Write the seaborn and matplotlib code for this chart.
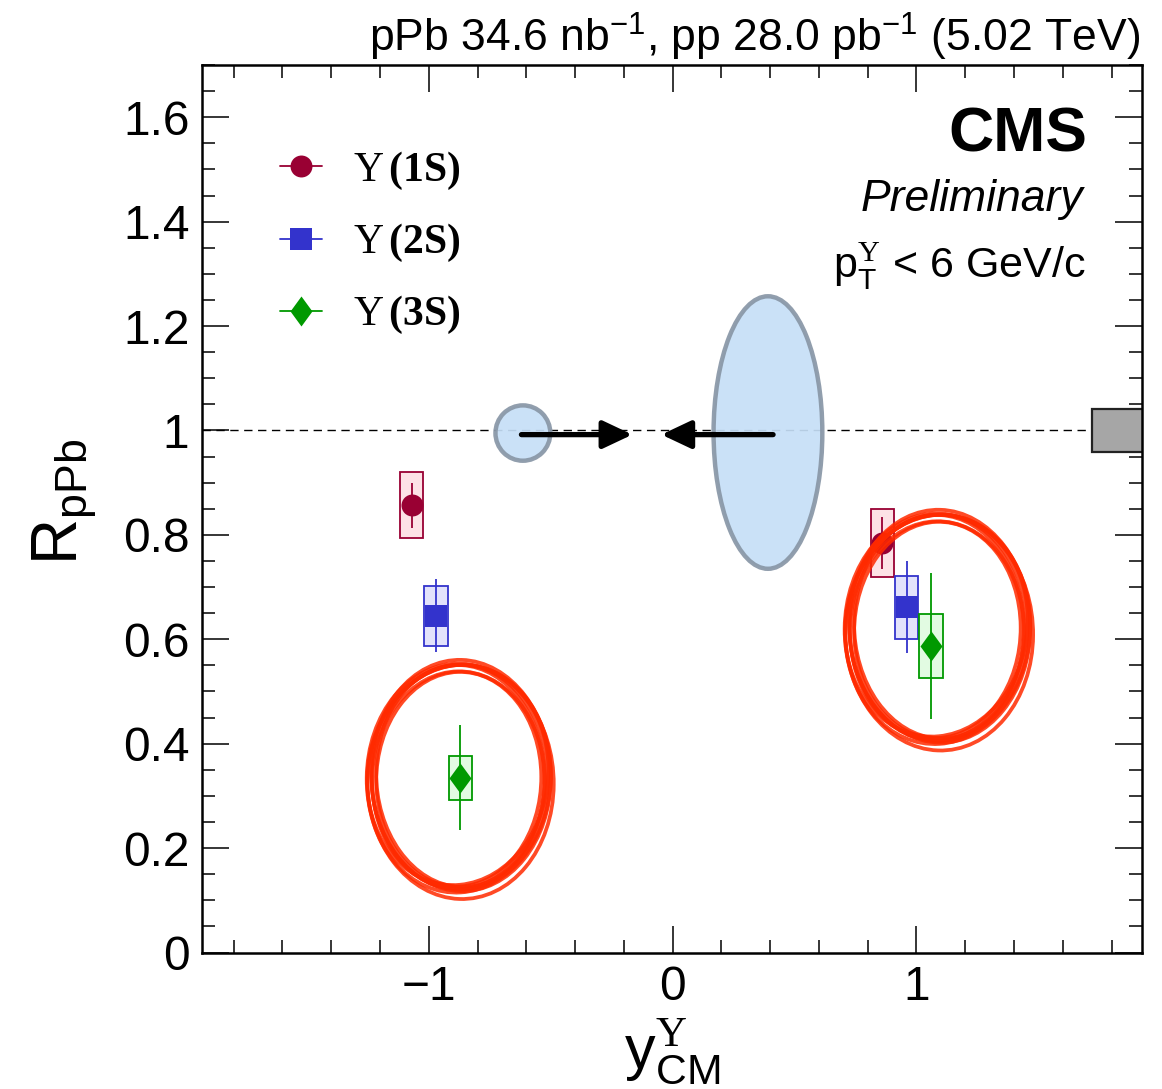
import numpy as np
import pandas as pd
import matplotlib
matplotlib.use("Agg")
import matplotlib.pyplot as plt
import seaborn as sns
from matplotlib.patches import Rectangle, Ellipse
from matplotlib.lines import Line2D
from matplotlib.ticker import MultipleLocator, FuncFormatter
from matplotlib.font_manager import FontProperties

# ---------------- data ----------------
states = ["1S", "2S", "3S"]
y_cm_1S = [-1.07, 0.86]
r_1S = [0.857, 0.784]
stat_1S = [0.043, 0.050]
syst_1S = [0.063, 0.065]

y_cm_2S = [-0.97, 0.96]
r_2S = [0.645, 0.661]
stat_2S = [0.070, 0.088]
syst_2S = [0.057, 0.061]

y_cm_3S = [-0.87, 1.06]
r_3S = [0.335, 0.587]
stat_3S = [0.100, 0.140]
syst_3S = [0.042, 0.061]

# global normalisation uncertainty box
norm_unc = 0.042
norm_x = [1.72, 1.95]

# annotation shapes (blue ellipses, arrows, red hand-drawn ellipses)
blue_centers = [(-0.614, 0.995), (0.391, 0.996)]
blue_sizes = [(0.225, 0.106), (0.446, 0.522)]
arrow_starts = [(-0.62, 0.992), (0.412, 0.992)]
arrow_tips = [(-0.165, 0.992), (-0.046, 0.992)]
red_centers = [(-0.873, 0.336), (1.090, 0.622)]
red_sizes = [(0.722, 0.431), (0.728, 0.434)]
red_angles = [0.0, 0.0]

df = pd.DataFrame({
    "state": ["1S"] * 2 + ["2S"] * 2 + ["3S"] * 2,
    "y_cm": y_cm_1S + y_cm_2S + y_cm_3S,
    "R": r_1S + r_2S + r_3S,
    "stat": stat_1S + stat_2S + stat_3S,
    "syst": syst_1S + syst_2S + syst_3S,
})

# ---------------- style ----------------
sns.set_theme(style="ticks")
plt.rcParams.update({
    "font.family": ["Liberation Sans", "DejaVu Sans"],
    "mathtext.fontset": "custom",
    "mathtext.rm": "Liberation Sans",
    "mathtext.it": "Liberation Sans:italic",
    "mathtext.bf": "Liberation Serif:bold",
    "mathtext.sf": "Liberation Sans",
    "mathtext.cal": "Liberation Serif",
    "axes.unicode_minus": True,
    "text.color": "black",
    "axes.labelcolor": "black",
    "xtick.color": "black",
    "ytick.color": "black",
    "axes.edgecolor": "black",
})

W, H = 1162, 1089
fig = plt.figure(figsize=(W / 100, H / 100), dpi=100)
ax = fig.add_axes([202 / W, 1 - 952.5 / H, 940 / W, 887.5 / H])
ax.set_facecolor("white")

diamond = [(0, 1), (0.73, 0), (0, -1), (-0.73, 0), (0, 1)]
style = {
    "1S": dict(color="#990033", fill="#fde2e6", marker="o", s=250),
    "2S": dict(color="#3333cc", fill="#e2e2fb", marker="s", s=250),
    "3S": dict(color="#009900", fill="#e2fbe2", marker=diamond, s=470),
}
box_hw = 0.048

# dashed line at unity
ax.axhline(1.0, color="black", lw=1.0, ls=(0, (6, 4)), zorder=1)

# normalisation box
ax.add_patch(Rectangle((norm_x[0], 1 - norm_unc), norm_x[1] - norm_x[0], 2 * norm_unc,
                       facecolor="#a6a6a6", edgecolor="#222222", lw=1.6, zorder=2))

# blue ellipses
for (cx, cy), (w, h) in zip(blue_centers, blue_sizes):
    ax.add_patch(Ellipse((cx, cy), w, h, facecolor="#c6dff7", edgecolor="#8896a6",
                         lw=3.2, alpha=0.92, zorder=2))

# data: systematic boxes, stat bars, markers
for st in states:
    d = df[df.state == st]
    stl = style[st]
    for _, row in d.iterrows():
        ax.add_patch(Rectangle((row.y_cm - box_hw, row.R - row.syst), 2 * box_hw, 2 * row.syst,
                               facecolor=stl["fill"], edgecolor=stl["color"], lw=1.3, zorder=3))
    ax.vlines(d.y_cm, d.R - d.stat, d.R + d.stat, color=stl["color"], lw=1.3, zorder=4)
    sns.scatterplot(data=d, x="y_cm", y="R", marker=stl["marker"], s=stl["s"],
                    color=stl["color"], linewidth=0, ax=ax, zorder=5, legend=False)

# arrows
for (x0, y0), (x1, y1) in zip(arrow_starts, arrow_tips):
    ax.annotate("", xy=(x1, y1), xytext=(x0, y0),
                arrowprops=dict(arrowstyle="-|>,head_length=18,head_width=8.5",
                                mutation_scale=1, lw=3.8, color="black",
                                shrinkA=0, shrinkB=0), zorder=6)

# red hand-drawn ellipses (several strokes)
stroke_dw = [-0.045, -0.030, -0.015, 0.0, 0.015, 0.030, 0.045, 0.022]
stroke_dh = [-0.020, -0.006, -0.014, 0.0, 0.012, 0.005, 0.020, -0.010]
stroke_da = [1.0, -1.5, 0.5, 0.0, -0.8, 1.8, -1.0, 2.5]
stroke_dx = [-0.004, 0.003, -0.006, 0.0, 0.005, -0.002, 0.002, -0.008]
stroke_dy = [-0.004, 0.002, -0.006, 0.0, 0.003, -0.003, -0.008, 0.004]
for (cx, cy), (w, h), a in zip(red_centers, red_sizes, red_angles):
    for dw, dh, da, dx, dy in zip(stroke_dw, stroke_dh, stroke_da, stroke_dx, stroke_dy):
        ax.add_patch(Ellipse((cx + dx, cy + dy), w + dw, h + dh, angle=a + da, fill=False,
                             edgecolor="#ff2a00", lw=2.7, alpha=0.85, zorder=7))

# axes
ax.set_xlim(-1.93, 1.925)
ax.set_ylim(0, 1.7)
ax.xaxis.set_major_locator(MultipleLocator(1))
ax.xaxis.set_minor_locator(MultipleLocator(0.2))
ax.yaxis.set_major_locator(MultipleLocator(0.2))
ax.yaxis.set_minor_locator(MultipleLocator(0.05))
ax.yaxis.set_major_formatter(FuncFormatter(lambda v, p: f"{v:g}"))
ax.xaxis.set_major_formatter(FuncFormatter(lambda v, p: f"{v:g}".replace("-", "\u2212")))
ax.tick_params(which="both", direction="in", top=True, right=True, colors="black")
ax.tick_params(which="major", length=19.5, width=1.1, labelsize=34.5, pad=9)
ax.tick_params(which="minor", length=9.5, width=1.1)
for sp in ax.spines.values():
    sp.set_linewidth(1.8)
    sp.set_color("black")

ax.set_xlabel(r"y$^{\mathcal{Υ}}_{\mathrm{CM}}$", fontsize=44)
ax.xaxis.set_label_coords(0.5, -0.072)
ax.set_ylabel(r"R$_{\mathrm{pPb}}$", fontsize=46)
ax.yaxis.set_label_coords(-0.11, 0.508)

# legend
handles = [Line2D([0], [0], color=style[s]["color"], lw=1.3,
                  marker=style[s]["marker"], markersize=(15.8 if s != "3S" else 21.6),
                  markeredgewidth=0) for s in states]
labels = [r"$\mathcal{Υ}\,\mathbf{(1S)}$", r"$\mathcal{Υ}\,\mathbf{(2S)}$",
          r"$\mathcal{Υ}\,\mathbf{(3S)}$"]
ax.legend(handles, labels, loc="upper left", bbox_to_anchor=(280 / W, 1 - 150 / H),
          bbox_transform=fig.transFigure, frameon=False,
          prop=FontProperties(family="Liberation Serif", size=30),
          handlelength=1.0, handletextpad=0.75, labelspacing=0.72,
          borderpad=0, borderaxespad=0)

# texts
fig.text(1140 / W, 1 - 52 / H, r"pPb 34.6 nb$^{\mathrm{-1}}$, pp 28.0 pb$^{\mathrm{-1}}$ (5.02 TeV)",
         ha="right", va="baseline", fontsize=32)
fig.text(1087 / W, 1 - 152 / H, "CMS", ha="right", va="baseline", fontsize=45, fontweight="bold")
fig.text(1083 / W, 1 - 211 / H, "Preliminary", ha="right", va="baseline", fontsize=32,
         fontstyle="italic")
fig.text(1085 / W, 1 - 278 / H, r"p$_{\mathrm{T}}^{\mathcal{Υ}}$ < 6 GeV/c", ha="right",
         va="baseline", fontsize=31)

fig.savefig("out.png", dpi=100, facecolor="white")
